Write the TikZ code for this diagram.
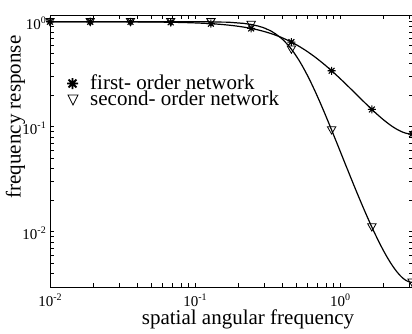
\documentclass[tikz,border=0pt]{standalone}
\usepackage{fontspec}
\setmainfont{Liberation Serif}
\newcommand{\tpw}[1]{{\fontsize{15}{15}\selectfont 10\raisebox{6pt}{\fontsize{10}{10}\selectfont #1}}}
\begin{document}
\begin{tikzpicture}[x=1pt,y=-1pt,
  frame/.style={line width=1pt},
  tickmark/.style={line width=0.7pt},
  curve/.style={line width=1.2pt, line join=round},
  starmk/.style={line width=1.1pt},
  trimk/.style={line width=0.8pt, line join=miter},
  ticklab/.style={inner sep=0pt},
  axlab/.style={inner sep=0pt, font=\fontsize{21}{21}\selectfont},
]
\useasboundingbox (0,0) rectangle (412,333);
% frame
\draw[frame] (413,15.7) -- (50,15.7) -- (50,287) -- (413,287);
\draw[frame] (413,15.7) -- (413,287);
% x ticks
\foreach \d in {0,1,2}{
  \foreach \k in {1,...,9}{
    \pgfmathsetmacro\xx{50+145*(\d+log10(\k))}
    \ifdim\xx pt<412pt
      \draw[tickmark] (\xx,287) -- (\xx,283.4);
      \draw[tickmark] (\xx,15.7) -- (\xx,19.3);
    \fi
  }
}
% y ticks
\foreach \d in {0,1,2,3}{
  \foreach \k in {1,...,9}{
    \pgfmathsetmacro\yy{21.7+105*(\d-log10(\k))}
    \ifdim\yy pt>15.6pt
      \ifdim\yy pt<286.5pt
        \draw[tickmark] (50,\yy) -- (53.6,\yy);
        \draw[tickmark] (413,\yy) -- (409.4,\yy);
      \fi
    \fi
  }
}
% curves
\draw[curve] plot[domain=-2:0.49715, samples=250]
  ({50+145*(\x+2)}, {21.7+105*log10(1+10.76*pow(sin(deg(pow(10,\x)/2)),2))});
\draw[curve] plot[domain=-2:0.49715, samples=250]
  ({50+145*(\x+2)}, {21.7+105*log10(1+302.4*pow(sin(deg(pow(10,\x)/2)),4))});
% markers
\foreach \k in {0,...,9}{
  \pgfmathsetmacro\tv{-2+\k*0.277461}
  \pgfmathsetmacro\mx{50+145*(\tv+2)}
  \pgfmathsetmacro\sn{sin(deg(pow(10,\tv)/2))}
  \pgfmathsetmacro\mya{21.7+105*log10(1+10.76*\sn*\sn)}
  \pgfmathsetmacro\myb{21.7+105*log10(1+302.4*\sn*\sn*\sn*\sn)}
  \draw[starmk] (\mx,\mya) +(-4,0) -- +(4,0) +(0,-4) -- +(0,4)
     +(-2.9,-2.9) -- +(2.9,2.9) +(-2.9,2.9) -- +(2.9,-2.9);
  \draw[trimk] (\mx,\myb) +(-4.2,-3.3) -- +(4.2,-3.3) -- +(0,4) -- cycle;
}
% legend
\draw[starmk, line width=1.8pt] (72.5,83.5) +(-5.5,0) -- +(5.5,0) +(0,-5.5) -- +(0,5.5)
   +(-3.9,-3.9) -- +(3.9,3.9) +(-3.9,3.9) -- +(3.9,-3.9);
\draw[trimk] (73,99.5) +(-5,-4.5) -- +(5,-4.5) -- +(0,5.5) -- cycle;
\node[axlab, anchor=base west] (l1) at (90,89) {first- order network};
\node[axlab, anchor=base west] (l2) at (90,105) {second- order network};
% tick labels
\node[ticklab, anchor=north] (xa) at (50,294) {\tpw{-2}};
\node[ticklab, anchor=north] (xb) at (195,294) {\tpw{-1}};
\node[ticklab, anchor=north] (xc) at (340,294) {\tpw{0}};
\node[ticklab, anchor=base east] (ya) at (46,29.2) {\tpw{0}};
\node[ticklab, anchor=base east] (yb) at (46,134.2) {\tpw{-1}};
\node[ticklab, anchor=base east] (yc) at (46,239.2) {\tpw{-2}};
% axis labels
\node[axlab, anchor=base] (xl) at (248,324) {spatial angular frequency};
\node[axlab, anchor=base, rotate=90] (yl) at (20.5,117) {frequency response};
\end{tikzpicture}
\end{document}
